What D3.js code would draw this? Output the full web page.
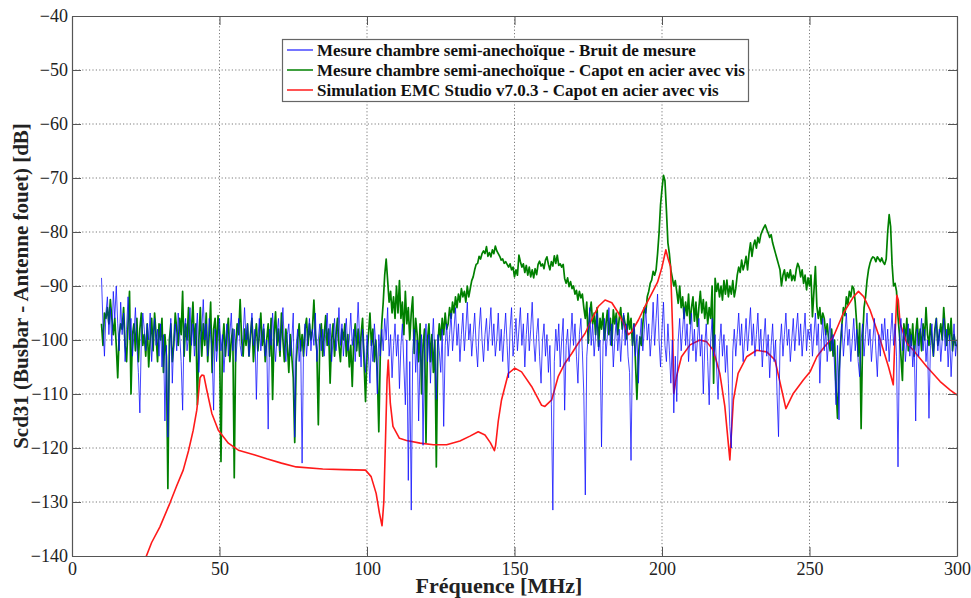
<!DOCTYPE html>
<html><head><meta charset="utf-8">
<script src="https://cdn.jsdelivr.net/npm/d3@7/dist/d3.min.js"></script>
<style>body{margin:0;background:#fff}</style>
</head><body>
<svg id="c" width="971" height="598"></svg>
<script>
// Sampled spectra: start frequency (MHz) and step (MHz)
const freqStart = 10, freqStep = 0.5;

// Blue: noise floor measurement (dB)
const blueValues = [
-88.5,-97,-103,-95,-92,-99,-94,-101,-91,-96,
-90,-97,-102,-93,-99,-95,-104,-98,-92,-100,
-96,-103,-99,-94,-101,-106,-113.5,-100,-95,-98,
-102,-97,-100,-95,-104,-99,-96,-101,-98,-103,
-97,-105,-99,-115,-101,-118,-104,-96,-108,-100,
-97,-102,-95,-99,-104,-113,-98,-96,-102,-99,
-94,-101,-97,-103,-99,-95,-106,-100,-98,-92.5,
-100,-97,-103,-96,-99,-102,-113,-98,-104,-100,
-96,-102,-99,-106,-101,-97,-103,-99,-95,-102,
-98,-104,-100,-96,-101,-103,-99,-94,-100,-97,
-103,-99,-95,-101,-98,-111,-100,-96,-102,-99,
-97,-103,-100,-116.5,-98,-101,-95,-100,-104,-99,
-96,-102,-98,-94,-101,-104,-99,-97,-103,-100,
-95,-118,-101,-98,-104,-100,-122.8,-101,-97,-103,
-99,-96,-102,-98,-101,-95,-104,-100,-97,-102,
-98,-103,-99,-95,-101,-97,-104,-100,-96,-102,
-99,-94,-101,-97,-103,-99,-96,-102,-100,-95,
-101,-98,-104,-99,-93,-100,-105,-98,-102,-106,
-99,-103,-108,-100,-104,-97,-101,-110,-99,-103,
-98,-102,-96,-100,-94,-103,-99,-107,-101,-97,
-103,-99,-109,-101,-97,-105,-112,-100,-126,-104,
-131.5,-102,-98,-106,-100,-115,-103,-99,-119.5,-101,
-97,-104,-99,-108,-101,-96,-103,-111,-99,-102,
-106,-98,-116,-101,-97,-103,-99,-95,-102,-98,
-94,-101,-97,-104,-99,-95,-102,-98,-93,-100,
-97,-103,-99,-95,-101,-105,-98,-94,-100,-104,
-99,-96,-102,-98,-94,-101,-97,-103,-100,-95,
-102,-98,-104,-99,-95,-101,-107,-98,-94,-103,
-100,-96,-102,-98,-94,-101,-97,-105,-99,-95,
-102,-98,-93,-100,-104,-99,-96,-103,-108,-100,
-97,-103,-99,-106,-101,-112,-131.5,-104,-98,-102,
-97,-105,-100,-96,-113,-101,-98,-104,-100,-95,
-101,-97,-103,-108,-99,-96,-102,-110,-128.7,-103,
-99,-94,-101,-97,-103,-99,-95,-102,-100,-119.8,
-101,-96,-103,-99,-94,-101,-97,-105,-100,-96,
-102,-98,-104,-99,-95,-101,-97,-103,-106,-122.3,
-101,-97,-103,-99,-108,-100,-96,-102,-98,-94,
-100,-97,-103,-99,-93,-101,-96,-91.5,-100,-105,
-98,-93,-101,-104,-97,-102,-108,-100,-113.5,-103,
-111.4,-100,-96,-102,-98,-94,-101,-97,-104,-99,
-95,-102,-98,-104,-100,-96,-103,-99,-110,-101,
-97,-104,-112,-100,-96,-103,-99,-105,-111,-101,
-97,-103,-99,-106,-101,-108,-116,-120,-102,-98,
-103,-99,-95,-101,-97,-104,-100,-96,-102,-98,
-94,-101,-97,-103,-99,-95,-102,-98,-105,-100,
-96,-103,-99,-107,-101,-97,-104,-100,-110,-117.9,
-101,-97,-103,-99,-95,-101,-98,-104,-100,-96,
-102,-98,-95,-101,-97,-103,-99,-95,-102,-98,
-100,-97,-103,-99,-95,-101,-97,-108,-100,-96,
-102,-98,-104,-100,-96,-102,-99,-105,-112,-101,
-114.8,-100,-97,-103,-99,-95,-101,-98,-104,-100,
-96,-102,-98,-104,-106.8,-100,-97,-103,-99,-95,
-101,-98,-104,-100,-96,-102,-106.8,-99,-103,-97,
-100,-96,-102,-98,-104,-99,-95,-101,-97,-103,
-123.5,-100,-96,-102,-98,-104,-100,-97,-103,-99,
-105,-101,-115,-98,-103,-99,-96,-102,-98,-104,
-100,-114.5,-101,-97,-103,-99,-96,-102,-98,-104,
-100,-96,-102,-98,-105,-99,-106.8,-101,-97,-103,
-100];

// Green: steel cover with screws, measurement (dB)
const greenValues = [
-97,-101,-95,-96,-94,-97,-92.5,-96,-99,-96,
-101,-107,-99,-97,-98,-94,-101,-104,-97,-91,
-110,-99,-97,-102,-96,-104,-98,-95,-101,-99,
-103,-97,-105,-100,-96,-102,-95,-99,-104,-97,
-100,-96,-106,-99,-103,-127.5,-100,-97,-104,-101,
-95,-98,-101,-96,-99,-91,-103,-97,-100,-94,
-104,-98,-93,-101,-97,-112,-100,-94,-103,-97,
-101,-95,-104,-99,-93,-106,-98,-96,-102,-95.5,
-99,-122.5,-101,-97,-103,-99,-96,-104,-100,-98,
-125.5,-101,-97,-99,-92.5,-100,-103,-98,-101,-97,
-103,-99,-96,-104,-100,-97,-102,-99,-95,-101,
-98,-104,-100,-97,-103,-96,-111,-99,-94.8,-101,
-98,-103,-95,-100,-104,-98,-101,-106,-99,-103,
-107,-119,-104,-100,-97,-102,-99,-103,-98,-96,
-101,-97,-100,-98,-92.6,-99,-102,-115.7,-100,-97,
-103,-99,-95.5,-101,-98,-108,-100,-97,-103,-99,
-96,-101,-104,-98,-100,-97,-103,-99,-105,-101,
-108.6,-100,-97,-102,-98,-103,-99,-96,-104,-111.4,
-103,-99,-95,-101,-98,-104,-100,-106,-117,-103,
-97,-93,-88,-85,-89,-93,-91,-95,-92,-96,
-90,-95,-89,-96,-93,-99,-91,-97,-94,-100,
-95,-92,-102.5,-96,-99,-104,-97,-110,-101,-98,
-119,-100,-97,-104,-99,-106,-100,-123.5,-101,-97,
-100,-96,-99,-95,-98,-97,-94,-96,-93,-95,
-92,-94,-91.5,-93,-90.5,-92,-91,-93,-90,-92,
-90.5,-89,-88.3,-87,-86,-85.8,-84.5,-85,-84,-83.5,
-84,-82.7,-84.5,-83.8,-84.6,-83.3,-84,-82.6,-83.5,-84,
-84.5,-85.2,-85,-85.8,-85.5,-86,-86.5,-85.9,-87,-86.5,
-88.3,-87,-88,-84.3,-85.5,-86.5,-85.9,-87.5,-86.2,-88,
-86.5,-88.3,-87,-88.5,-86.8,-87.9,-86,-85.4,-86.3,-85.9,
-86.8,-85.2,-84.6,-86,-87,-85.5,-86.3,-84.4,-85.8,-84.3,
-86.2,-85.9,-86.5,-86,-88.6,-89.5,-88.5,-90.1,-89.2,-90.5,
-90,-91.5,-90.8,-92.6,-91,-92.2,-91.5,-94,-96,-93,
-100.6,-95,-93,-97,-95,-99,-94,-101.2,-96,-98,
-95,-100,-97,-94.5,-99,-96,-101,-94.4,-97,-95,
-99,-96,-94,-98,-95.5,-97,-99.8,-95,-98,-96,
-101,-97,-104,-111,-103,-99.4,-101,-97,-94,-95,
-92,-91,-89.5,-88.9,-87.3,-88,-87,-84,-80.2,-75,
-72,-69.5,-70.5,-76,-82,-84,-87,-88.5,-90,-89,
-91,-93.2,-90,-94,-92,-96,-93,-95.5,-91.5,-97,
-94,-92,-96.5,-93,-97.5,-94,-91,-95,-92.5,-96,
-93,-97,-94,-96,-90,-108,-88.6,-91,-89.5,-92,
-90,-92.6,-89,-91.5,-88.9,-92,-90,-91.5,-89,-92,
-90.5,-88,-86.5,-87.5,-85.2,-87,-86,-84.5,-87,-84,
-82,-84.5,-82.5,-81.5,-83,-81,-82,-80.5,-79.8,-79.2,
-78.7,-79.5,-80.2,-81,-80.5,-82,-83,-84,-85,-86,
-87,-90,-88,-87,-89,-87.5,-88.5,-87,-89,-88,
-89,-87,-85.8,-86.5,-88.3,-87,-89.5,-88,-90.7,-88.5,
-90,-88,-95.7,-91,-86.4,-93.8,-96,-94,-97,-95,
-96,-99,-97,-100,-102,-98,-103,-100,-109,-114.5,
-106,-101,-97,-94,-95.5,-92,-93.5,-91,-92,-90,
-90.5,-93,-97,-103,-96.9,-116.4,-100,-94,-92,-89,
-87,-85.8,-85,-84.6,-84.8,-85.5,-84.6,-85,-85.5,-84.8,
-85.6,-86,-85,-80,-76.8,-79,-86,-90,-89.5,-91,
-95.7,-99,-103,-107.5,-97,-100,-96,-102,-98,-101,
-97,-103,-99,-96,-101,-98,-102,-97,-100,-94,
-99,-101,-97,-100,-103,-98,-96,-101,-99,-97,
-100,-94,-98,-101,-97,-100,-96,-102,-99,-101,
-101];

// Red: EMC Studio simulation (MHz, dB)
const redFreq = [24.5,27,29.8,33.2,35.5,37.7,39.5,41.1,42.3,42.8,43.4,44,44.7,45.7,47.4,49.6,53,56.4,62,66,71,76,85,92,99.5,101.4,103.1,104.2,105.1,105.7,106.3,106.8,107.2,107.9,108.8,111,113.4,118,122.5,127,131.5,134.9,137.7,140,141.8,143.2,143.6,144.5,145.6,147.9,150.1,152.4,155.8,159.2,160.3,162.6,164.8,167.1,169.4,171.6,173.9,176.1,178.4,180.7,183,185.2,187.5,188.6,189.7,192,194.2,196.5,198.5,200,201.3,202.1,202.9,203.6,204,204.9,206.6,209.5,212.8,215.1,217.4,219.6,221.3,223,224.2,225.8,228.7,232.1,235.5,238.3,240.6,242,244.5,247.9,250.2,252.5,255,258.1,261.5,264.9,266.6,268.4,270.5,274,276.8,278.4,279,279.6,280.1,280.7,283,285.2,289.7,294.3,297.7,300];
const redValues = [-141,-137.5,-134.6,-130.2,-127,-124.1,-120.5,-116.7,-113,-110.5,-107,-106.5,-106.6,-109.3,-113.6,-116.7,-119.1,-120.4,-121.3,-122,-122.8,-123.5,-123.9,-124,-124.1,-125.3,-128.4,-132,-134.4,-130,-117.9,-107.4,-103.7,-111.7,-116,-118.2,-118.6,-119.1,-119.4,-119.4,-118.7,-117.8,-117,-117.6,-119,-120.5,-119.5,-115,-111.1,-106.2,-105.2,-105.9,-108.6,-112.1,-112.3,-111.1,-106.8,-104.3,-102.5,-100.6,-98.8,-96.3,-93.8,-92.6,-93.1,-95,-97.5,-99,-98.5,-96.3,-93.8,-91.4,-89.3,-86.5,-83.3,-85,-86.4,-98.1,-109.9,-106.8,-103.1,-100.9,-100,-100.3,-101.9,-106.2,-112.3,-122.2,-111.1,-106.2,-103.1,-101.9,-102.2,-103.7,-109.3,-112.7,-109.9,-107.4,-105.9,-103.1,-101.3,-99.4,-95,-92,-91,-92,-94.4,-100,-105,-108.3,-99,-91.7,-92.6,-96.9,-100.6,-101.9,-104.9,-107.7,-109.3,-110.2];

const xTicks = [0, 50, 100, 150, 200, 250, 300];
const yTicks = [-140, -130, -120, -110, -100, -90, -80, -70, -60, -50, -40];
const legendLabels = [
  "Mesure chambre semi-anechoïque - Bruit de mesure",
  "Mesure chambre semi-anechoïque - Capot en acier avec vis",
  "Simulation EMC Studio v7.0.3 - Capot en acier avec vis"
];
const seriesColors = ["#0a0aff", "#008000", "#ff1a1a"];
const xTitle = "Fréquence [MHz]";
const yTitle = "Scd31 (Busbar - Antenne fouet) [dB]";

const svg = d3.select("#c");
const serif = "'Liberation Serif','Times New Roman',serif";
const L = 72, R = 957, T = 16, B = 556;
const x = d3.scaleLinear().domain([0, 300]).range([L, R]);
const y = d3.scaleLinear().domain([-140, -40]).range([B, T]);

svg.append("rect").attr("width", 971).attr("height", 598).attr("fill", "#fff");

// grid
const grid = svg.append("g").attr("stroke", "#7a7a7a").attr("stroke-width", 1).attr("stroke-dasharray", "1.2,2.2");
grid.selectAll("line.v").data(xTicks.slice(1, -1)).enter().append("line")
  .attr("x1", d => x(d)).attr("x2", d => x(d)).attr("y1", T).attr("y2", B);
grid.selectAll("line.h").data(yTicks.slice(1, -1)).enter().append("line")
  .attr("x1", L).attr("x2", R).attr("y1", d => y(d)).attr("y2", d => y(d));

// clip
svg.append("clipPath").attr("id", "clip").append("rect")
  .attr("x", L).attr("y", T).attr("width", R - L).attr("height", B - T);

const lineGen = d3.line().x(d => x(d[0])).y(d => y(d[1]));
const blueData = blueValues.map((v, i) => [freqStart + i * freqStep, v]);
const greenData = greenValues.map((v, i) => [freqStart + i * freqStep, v]);
const redData = redFreq.map((f, i) => [f, redValues[i]]);

const plot = svg.append("g").attr("clip-path", "url(#clip)");
plot.append("path").datum(greenData).attr("d", lineGen)
  .attr("fill", "none").attr("stroke", seriesColors[1]).attr("stroke-width", 1.7).attr("stroke-linejoin", "round");
plot.append("path").datum(redData).attr("d", lineGen)
  .attr("fill", "none").attr("stroke", seriesColors[2]).attr("stroke-width", 1.6).attr("stroke-linejoin", "round");
plot.append("path").datum(blueData).attr("d", lineGen)
  .attr("fill", "none").attr("stroke", seriesColors[0]).attr("stroke-width", 0.9)
  .attr("stroke-opacity", 0.85).attr("stroke-linejoin", "round");

// axes with inward ticks
const tl = 9;
const axB = d3.axisBottom(x).tickValues(xTicks).tickSizeInner(-tl).tickSizeOuter(0).tickPadding(6);
const axT = d3.axisTop(x).tickValues(xTicks).tickSizeInner(-tl).tickSizeOuter(0).tickFormat("");
const axLf = d3.axisLeft(y).tickValues(yTicks).tickSizeInner(-tl).tickSizeOuter(0).tickPadding(4);
const axRt = d3.axisRight(y).tickValues(yTicks).tickSizeInner(-tl).tickSizeOuter(0).tickFormat("");

function styleAxis(g) {
  g.selectAll("path.domain").attr("stroke", "#555").attr("stroke-width", 1.2);
  g.selectAll(".tick line").attr("stroke", "#555").attr("stroke-width", 1);
  g.selectAll("text").attr("font-family", serif).attr("font-size", 18).attr("fill", "#222");
}
svg.append("g").attr("transform", `translate(0,${B})`).call(axB).call(styleAxis);
svg.append("g").attr("transform", `translate(0,${T})`).call(axT).call(styleAxis);
svg.append("g").attr("transform", `translate(${L},0)`).call(axLf).call(styleAxis);
svg.append("g").attr("transform", `translate(${R},0)`).call(axRt).call(styleAxis);

// titles
svg.append("text").attr("x", 499).attr("y", 593).attr("text-anchor", "middle")
  .attr("font-family", serif).attr("font-weight", "bold").attr("font-size", 22).attr("fill", "#222").text(xTitle);
svg.append("text").attr("transform", `translate(28,${(T + B) / 2}) rotate(-90)`).attr("text-anchor", "middle")
  .attr("font-family", serif).attr("font-weight", "bold").attr("font-size", 21).attr("fill", "#222").text(yTitle);

// legend
const lg = svg.append("g");
lg.append("rect").attr("x", 282.5).attr("y", 39.5).attr("width", 466).attr("height", 62)
  .attr("fill", "#fff").attr("stroke", "#666").attr("stroke-width", 1.2);
legendLabels.forEach((t, i) => {
  const yy = 50 + i * 20;
  lg.append("line").attr("x1", 287).attr("x2", 313).attr("y1", yy).attr("y2", yy)
    .attr("stroke", seriesColors[i]).attr("stroke-width", 1.5).attr("stroke-opacity", i === 0 ? 0.75 : 1);
  lg.append("text").attr("x", 317).attr("y", yy).attr("dy", "0.35em")
    .attr("font-family", serif).attr("font-weight", "bold").attr("font-size", 17).attr("fill", "#111").text(t);
});
</script>
</body></html>
